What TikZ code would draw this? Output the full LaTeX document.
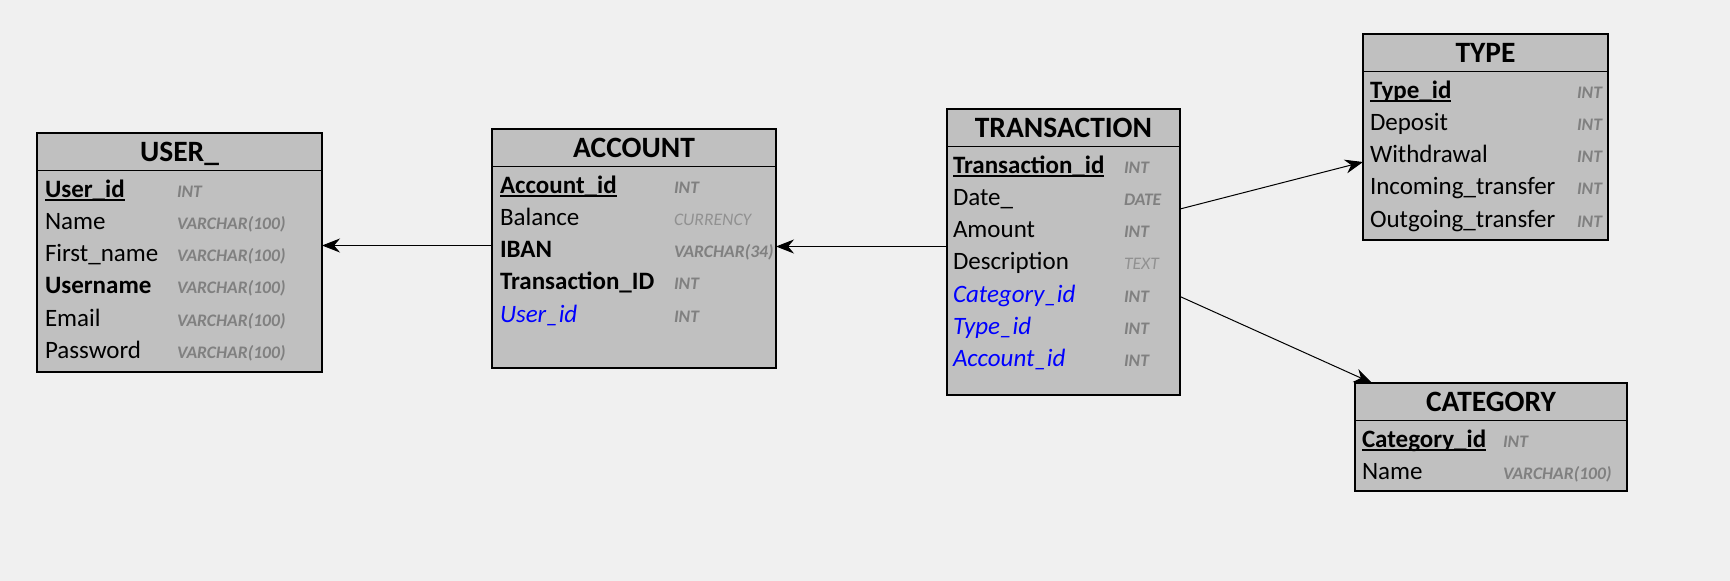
\documentclass[tikz,border=0pt]{standalone}
\usepackage{fontspec}
\setmainfont{Carlito}
\usetikzlibrary{arrows.meta, positioning}
\definecolor{canvas}{RGB}{240,240,240}
\definecolor{tablefill}{RGB}{192,192,192}
\definecolor{typegray}{RGB}{128,128,128}
\definecolor{typelight}{RGB}{145,145,145}
\definecolor{fkblue}{RGB}{0,0,255}
\tikzset{
    every node/.style={inner sep=0pt, outer sep=0pt},
    table/.style={draw, line width=1.2pt, fill=tablefill, anchor=north west},
    title/.style={font=\fontsize{29.5}{34}\selectfont\bfseries, anchor=base},
    fld/.style={font=\fontsize{25}{30}\selectfont, anchor=base west},
    bfld/.style={fld, font=\fontsize{25}{30}\selectfont\bfseries},
    pk/.style={bfld},
    fk/.style={fld, font=\fontsize{25}{30}\selectfont\itshape, text=fkblue},
    typ/.style={font=\fontsize{17.6}{20}\selectfont\bfseries\itshape, text=typegray, anchor=base west},
    typl/.style={typ, font=\fontsize{17.6}{20}\selectfont\itshape, text=typelight},
    rel/.style={line width=1pt, -{Stealth[length=18pt, width=14pt]}}
}

\begin{document}
\begin{tikzpicture}[x=1pt, y=-1pt]
  \fill[canvas] (0,0) rectangle (1730,581);

  % tables
  \node[table, minimum width=285pt, minimum height=239pt] (user) at (37,133) {};
  \node[table, minimum width=284pt, minimum height=239pt] (account) at (492,129) {};
  \node[table, minimum width=233pt, minimum height=286pt] (transaction) at (947,109) {};
  \node[table, minimum width=245pt, minimum height=206pt] (type) at (1363,34) {};
  \node[table, minimum width=272pt, minimum height=108pt] (category) at (1355,383) {};

  \foreach \tab in {user, account, transaction, type, category}
    \draw[line width=1.2pt] ([yshift=-37.5pt]\tab.north west) -- ([yshift=-37.5pt]\tab.north east);

  \node[title] (user-h) at ([yshift=-28.5pt]user.north) {USER\_};
  \node[title] (account-h) at ([yshift=-28.5pt]account.north) {ACCOUNT};
  \node[title] (transaction-h) at ([yshift=-28.5pt]transaction.north) {TRANSACTION};
  \node[title] (type-h) at ([yshift=-28.5pt]type.north) {TYPE};
  \node[title] (category-h) at ([yshift=-28.5pt]category.north) {CATEGORY};

  % rows
  \foreach \name/\dtype/\nsty/\dsty [count=\i] in {User\_id/INT/pk/typ,
      Name/VARCHAR(100)/fld/typ, First\_name/VARCHAR(100)/fld/typ,
      Username/VARCHAR(100)/bfld/typ, Email/VARCHAR(100)/fld/typ,
      Password/VARCHAR(100)/fld/typ} {
    \node[\nsty] (user-\i) at ([xshift=8pt, yshift={-64-32.3*(\i-1)}]user.north west) {\name};
    \node[\dsty] (user-t\i) at ([xshift=140pt, yshift={-64-32.3*(\i-1)}]user.north west) {\dtype};
  }
  \foreach \name/\dtype/\nsty/\dsty [count=\i] in {Account\_id/INT/pk/typ,
      Balance/CURRENCY/fld/typl, IBAN/VARCHAR(34)/bfld/typ,
      Transaction\_ID/INT/bfld/typ, User\_id/INT/fk/typ} {
    \node[\nsty] (account-\i) at ([xshift=8pt, yshift={-64-32.3*(\i-1)}]account.north west) {\name};
    \node[\dsty] (account-t\i) at ([xshift=182pt, yshift={-64-32.3*(\i-1)}]account.north west) {\dtype};
  }
  \foreach \name/\dtype/\nsty/\dsty [count=\i] in {Transaction\_id/INT/pk/typ,
      Date\_/DATE/fld/typ, Amount/INT/fld/typ, Description/TEXT/fld/typl,
      Category\_id/INT/fk/typ, Type\_id/INT/fk/typ, Account\_id/INT/fk/typ} {
    \node[\nsty] (transaction-\i) at ([xshift=6pt, yshift={-64-32.3*(\i-1)}]transaction.north west) {\name};
    \node[\dsty] (transaction-t\i) at ([xshift=177pt, yshift={-64-32.3*(\i-1)}]transaction.north west) {\dtype};
  }
  \foreach \name/\nsty [count=\i] in {Type\_id/pk, Deposit/fld, Withdrawal/fld,
      Incoming\_transfer/fld, Outgoing\_transfer/fld} {
    \node[\nsty] (type-\i) at ([xshift=7pt, yshift={-64-32.3*(\i-1)}]type.north west) {\name};
    \node[typ] (type-t\i) at ([xshift=214pt, yshift={-64-32.3*(\i-1)}]type.north west) {INT};
  }
  \foreach \name/\dtype/\nsty [count=\i] in {Category\_id/INT/pk, Name/VARCHAR(100)/fld} {
    \node[\nsty] (category-\i) at ([xshift=7pt, yshift={-64-32.3*(\i-1)}]category.north west) {\name};
    \node[typ] (category-t\i) at ([xshift=148pt, yshift={-64-32.3*(\i-1)}]category.north west) {\dtype};
  }

  % primary keys
  \foreach \key in {user-1, account-1, transaction-1, type-1, category-1}
    \draw[line width=1.2pt] ([yshift=-3pt]\key.base west) -- ([yshift=-3pt]\key.base east);

  % relations
  \draw[rel] ([yshift=5.5pt]transaction.west) -- ([yshift=5.5pt]transaction.west -| account.east);
  \draw[rel] ([yshift=3pt]account.west) -- ([yshift=3pt]account.west -| user.east);
  \draw[rel] ([yshift=43pt]transaction.east) -- ([yshift=-25pt]type.west);
  \draw[rel] ([yshift=-44.5pt]transaction.east) -- ([xshift=17pt]category.north west);
\end{tikzpicture}
\end{document}
